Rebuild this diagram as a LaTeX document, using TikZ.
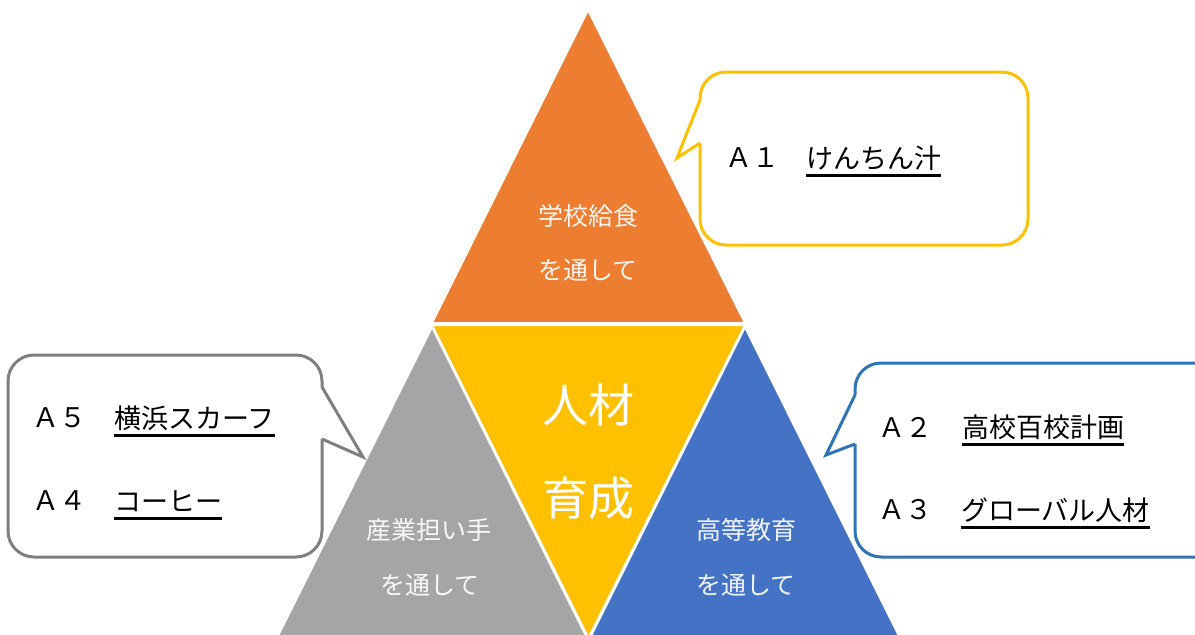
\documentclass[tikz,border=0pt]{standalone}
\usepackage{fontspec}
\setmainfont{Noto Sans CJK JP}
\definecolor{orng}{HTML}{ED7D31}
\definecolor{gold}{HTML}{FFC000}
\definecolor{gry}{HTML}{A5A5A5}
\definecolor{blu}{HTML}{4472C4}
\definecolor{grayline}{HTML}{7F7F7F}
\definecolor{blueline}{HTML}{2E75B6}
\begin{document}
\begin{tikzpicture}[x=1pt,y=-1pt,
  tri/.style={draw=white,line width=2pt,line join=miter},
  callbox/.style={fill=white,line width=3pt,rounded corners=26pt},
  tailfill/.style={fill=white,draw=none},
  tailline/.style={line width=3pt,line join=miter},
  tritext/.style={font=\fontsize{25}{30}\selectfont,text=white,text opacity=0.92,inner sep=0pt},
  bigtext/.style={font=\fontsize{46}{52}\selectfont,text=white,inner sep=0pt},
  lbl/.style={font=\fontsize{27}{32}\selectfont,inner sep=0pt},
  ultext/.style={font=\fontsize{27}{32}\selectfont,anchor=west,inner xsep=0pt,inner ysep=3.5pt,text height=23.8pt,text depth=3.2pt},
  ulline/.style={line width=3pt,black}]
\useasboundingbox (0,0) rectangle (1195,635);
\clip (0,0) rectangle (1195,635);
\fill[white] (0,0) rectangle (1195,635);

% triangles
\draw[tri,fill=gry] (432,327) -- (588,640) -- (276,640) -- cycle;
\draw[tri,fill=blu] (745,327) -- (901,640) -- (589,640) -- cycle;
\draw[tri,fill=orng] (588,10) -- (745,323) -- (432,323) -- cycle;
\draw[tri,fill=gold] (432,325) -- (745,325) -- (588.5,638) -- cycle;

% triangle texts
\node[tritext] (t1a) at (588,216) {学校給食};
\node[tritext] (t1b) at (588,270) {を通して};
\node[bigtext] (c1) at (588,405) {人材};
\node[bigtext] (c2) at (588,498) {育成};
\node[tritext] (t2a) at (429,530) {産業担い手};
\node[tritext] (t2b) at (430,585) {を通して};
\node[tritext] (t3a) at (746,530) {高等教育};
\node[tritext] (t3b) at (746,585) {を通して};

% yellow callout
\draw[callbox,draw=gold] (700,72) rectangle (1028,245);
\fill[tailfill] (700,143) -- (677,158) -- (700,100) -- (704,100) -- (704,143) -- cycle;
\draw[tailline,draw=gold] (700,143) -- (677,158) -- (700,100);
\node[lbl] (a1) at (752,158) {Ａ１};
\node[ultext] (a1t) at (806,158) {けんちん汁};
\draw[ulline] (a1t.south west) -- (a1t.south east);

% gray callout
\draw[callbox,draw=grayline] (8,355) rectangle (322,557);
\fill[tailfill] (322,387) -- (363,457) -- (322,439) -- (318,439) -- (318,387) -- cycle;
\draw[tailline,draw=grayline] (322,387) -- (363,457) -- (322,439);
\node[lbl] (a5) at (59,418) {Ａ５};
\node[ultext] (a5t) at (114,418) {横浜スカーフ};
\draw[ulline] (a5t.south west) -- (a5t.south east);
\node[lbl] (a4) at (59,501) {Ａ４};
\node[ultext] (a4t) at (114,501) {コーヒー};
\draw[ulline] (a4t.south west) -- (a4t.south east);

% blue callout
\draw[callbox,draw=blueline] (855,363) rectangle (1222,557);
\fill[tailfill] (855,444) -- (826,455) -- (855,395) -- (859,395) -- (859,444) -- cycle;
\draw[tailline,draw=blueline] (855,444) -- (826,455) -- (855,395);
\node[lbl] (a2) at (905,427) {Ａ２};
\node[ultext] (a2t) at (962,427) {高校百校計画};
\draw[ulline] (a2t.south west) -- (a2t.south east);
\node[lbl] (a3) at (905,510) {Ａ３};
\node[ultext] (a3t) at (961,510) {グローバル人材};
\draw[ulline] (a3t.south west) -- (a3t.south east);
\end{tikzpicture}
\end{document}
